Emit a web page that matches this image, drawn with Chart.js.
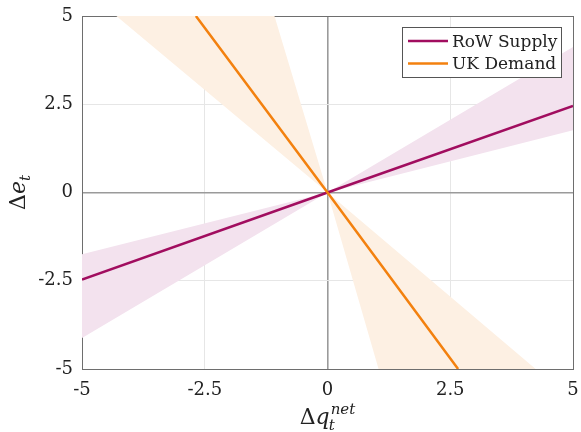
<!DOCTYPE html>
<html lang="en">
<head>
  <meta charset="UTF-8"/>
  <title>RoW Supply / UK Demand</title>
  <script src="https://cdn.jsdelivr.net/npm/chart.js@4.4.0/dist/chart.umd.min.js"></script>
  <style>
    html, body { margin: 0; padding: 0; background: #fff; }
    #wrap { width: 581px; height: 432px; }
  </style>
</head>
<body>
<div id="wrap"><canvas id="myChart" width="581" height="432"></canvas></div>
<script>
// --- data ---
var xTicks = [-5, -2.5, 0, 2.5, 5];
var yTicks = [-5, -2.5, 0, 2.5, 5];
var xTickLabels = ['-5', '-2.5', '0', '2.5', '5'];
var yTickLabels = ['-5', '-2.5', '0', '2.5', '5'];

// RoW supply line and its band (two edges through the origin)
var supplyX = [-5, 0, 5];
var supplyY = [-2.47, 0, 2.45];
var supplyBandSteepY = [-4.12, 0, 4.12];
var supplyBandFlatY = [-1.75, 0, 1.76];

// UK demand line and its band (edge x read at y = -5, 0, 5)
var demandY = [-5, 0, 5];
var demandX = [2.66, 0, -2.68];
var demandBandOuterX = [4.24, 0, -4.3];
var demandBandInnerX = [1.04, 0, -1.08];

var labels = ['RoW Supply', 'UK Demand'];
var supplyColor = '#a10d5f';
var demandColor = '#f3810f';

function pts(xs, ys) {
  var out = [];
  for (var i = 0; i < xs.length; i++) out.push({x: xs[i], y: ys[i]});
  return out;
}

var serif = '"DejaVu Serif", serif';

// axis titles with sub/superscripts
var axisTitles = {
  id: 'axisTitles',
  afterDraw: function (chart) {
    var ctx = chart.ctx, a = chart.chartArea;
    ctx.save();
    ctx.fillStyle = '#222';
    ctx.textBaseline = 'alphabetic';
    ctx.textAlign = 'left';
    // x title
    var big = '22px ' + serif, bigI = 'italic 22px ' + serif, small = 'italic 15px ' + serif;
    ctx.font = big; var wD = ctx.measureText('\u0394').width;
    ctx.font = bigI; var wq = ctx.measureText('q').width;
    ctx.font = small; var wn = ctx.measureText('net').width;
    var total = wD + wq + 1 + wn;
    var x0 = (a.left + a.right) / 2 - total / 2, base = 424;
    ctx.font = big; ctx.fillText('\u0394', x0, base);
    ctx.font = bigI; ctx.fillText('q', x0 + wD, base);
    ctx.font = small;
    ctx.fillText('t', x0 + wD + wq - 1, base + 6);
    ctx.fillText('net', x0 + wD + wq + 1, base - 10);
    // y title (rotated)
    ctx.translate(25, (a.top + a.bottom) / 2);
    ctx.rotate(-Math.PI / 2);
    ctx.font = big; wD = ctx.measureText('\u0394').width;
    ctx.font = bigI; var we = ctx.measureText('e').width;
    ctx.font = small; var wt = ctx.measureText('t').width;
    var y0 = -(wD + we + wt) / 2;
    ctx.font = big; ctx.fillText('\u0394', y0, 0);
    ctx.font = bigI; ctx.fillText('e', y0 + wD, 0);
    ctx.font = small; ctx.fillText('t', y0 + wD + we, 5);
    ctx.restore();
  }
};

// boxed legend inside the plot, MATLAB style
var boxLegend = {
  id: 'boxLegend',
  afterDraw: function (chart) {
    var ctx = chart.ctx, a = chart.chartArea;
    var entries = chart.data.datasets.filter(function (d) { return d.inLegend; })
      .sort(function (p, q) { return p.inLegend - q.inLegend; });
    var right = a.right - 11, left = right - 160, top = a.top + 11, h = 51;
    ctx.save();
    ctx.fillStyle = '#fff';
    ctx.fillRect(left, top, right - left, h);
    ctx.strokeStyle = '#555';
    ctx.lineWidth = 1;
    ctx.strokeRect(left + 0.5, top + 0.5, right - left - 1, h - 1);
    ctx.font = '17px ' + serif;
    ctx.textBaseline = 'alphabetic';
    ctx.textAlign = 'left';
    entries.forEach(function (d, i) {
      var cy = top + 14 + i * 22.5;
      ctx.strokeStyle = d.borderColor;
      ctx.lineWidth = 2.5;
      ctx.beginPath();
      ctx.moveTo(left + 6, cy);
      ctx.lineTo(left + 46, cy);
      ctx.stroke();
      ctx.fillStyle = '#222';
      ctx.fillText(d.label, left + 50, cy + 5.5);
    });
    ctx.restore();
  }
};

function gridColor(c) {
  var v = c.tick.value;
  if (v === 0) return '#9a9a9a';
  if (Math.abs(v) === 5) return '#6e6e6e';
  return '#e6e6e6';
}
function gridWidth(c) {
  var v = c.tick.value;
  if (v === 0) return 1.6;
  return 1;
}

var ctx = document.getElementById('myChart').getContext('2d');
var chart = new Chart(ctx, {
  type: 'scatter',
  data: {
    datasets: [{
      label: labels[1],
      inLegend: 2,
      data: pts(demandX, demandY),
      showLine: true,
      borderColor: demandColor,
      borderWidth: 2.5,
      pointRadius: 0,
      fill: false
    }, {
      label: labels[0],
      inLegend: 1,
      data: pts(supplyX, supplyY),
      showLine: true,
      borderColor: supplyColor,
      borderWidth: 2.5,
      pointRadius: 0,
      fill: false
    }, {
      // supply band, filled to the next dataset
      data: pts(supplyX, supplyBandSteepY),
      showLine: true,
      borderWidth: 0,
      borderColor: 'rgba(0,0,0,0)',
      backgroundColor: '#f3e2ee',
      pointRadius: 0,
      fill: '+1'
    }, {
      data: pts(supplyX, supplyBandFlatY),
      showLine: true,
      borderWidth: 0,
      borderColor: 'rgba(0,0,0,0)',
      pointRadius: 0,
      fill: false
    }, {
      // demand band, indexed along y so both edges span the same range
      indexAxis: 'y',
      data: pts(demandBandOuterX, demandY),
      showLine: true,
      borderWidth: 0,
      borderColor: 'rgba(0,0,0,0)',
      backgroundColor: '#fdf0e3',
      pointRadius: 0,
      fill: '+1'
    }, {
      indexAxis: 'y',
      data: pts(demandBandInnerX, demandY),
      showLine: true,
      borderWidth: 0,
      borderColor: 'rgba(0,0,0,0)',
      pointRadius: 0,
      fill: false
    }]
  },
  options: {
    responsive: false,
    animation: false,
    layout: { padding: { top: 16, right: 8, left: 0, bottom: 0 } },
    plugins: {
      legend: { display: false },
      tooltip: { enabled: false }
    },
    scales: {
      x: {
        type: 'linear',
        min: -5, max: 5,
        afterFit: function (s) { s.height = 63; s.paddingLeft = 0; s.paddingRight = 0; },
        afterBuildTicks: function (s) { s.ticks = xTicks.map(function (v) { return {value: v}; }); },
        ticks: {
          padding: 11,
          color: '#222',
          font: { family: serif, size: 18 },
          maxRotation: 0,
          callback: function (v) { return xTickLabels[xTicks.indexOf(v)]; }
        },
        grid: { drawTicks: false, color: gridColor, lineWidth: gridWidth },
        border: { color: '#6e6e6e', width: 1 }
      },
      y: {
        type: 'linear',
        min: -5, max: 5,
        afterFit: function (s) { s.width = 82; s.paddingTop = 0; s.paddingBottom = 0; },
        afterBuildTicks: function (s) { s.ticks = yTicks.map(function (v) { return {value: v}; }); },
        ticks: {
          padding: 9,
          color: '#222',
          font: { family: serif, size: 18 },
          callback: function (v) { return yTickLabels[yTicks.indexOf(v)]; }
        },
        grid: { drawTicks: false, color: gridColor, lineWidth: gridWidth },
        border: { color: '#6e6e6e', width: 1 }
      }
    }
  },
  plugins: [axisTitles, boxLegend]
});
</script>
</body>
</html>
